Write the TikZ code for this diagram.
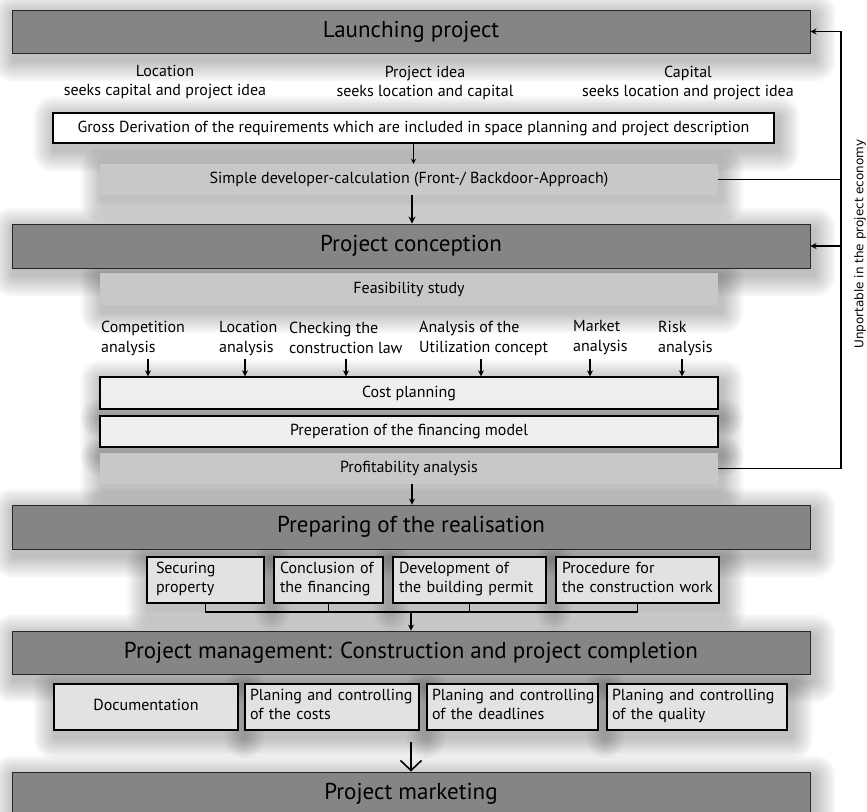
\documentclass[tikz,border=0pt]{standalone}
\usepackage{fontspec}
\setmainfont{PT Sans}
\newfontfamily\sidefont{DejaVu Sans}
\usetikzlibrary{arrows.meta,backgrounds}

\definecolor{phasegray}{HTML}{858585}
\definecolor{stepgray}{HTML}{C8C8C8}
\definecolor{paleface}{HTML}{EFEFEF}
\definecolor{subface}{HTML}{E2E2E2}

\begin{document}
\begin{tikzpicture}[x=1pt,y=-1pt,
  phase/.style={draw=black!85,line width=0.9pt,fill=phasegray,
      minimum width=798pt,inner sep=0pt,
      font=\fontsize{23}{27}\selectfont},
  stepbox/.style={fill=stepgray,minimum width=618pt,inner sep=0pt,
      font=\fontsize{16}{19}\selectfont},
  plainbox/.style={draw=black,line width=1.3pt,inner sep=0pt,
      font=\fontsize{16}{19}\selectfont},
  subbox/.style={draw=black,line width=1.8pt,fill=subface,inner ysep=0pt,
      minimum height=46pt,align=left,
      font=\fontsize{16}{19}\selectfont,execute at end node={\strut}},
  toptext/.style={align=center,inner sep=0pt,font=\fontsize{16}{19}\selectfont},
  facet/.style={align=left,inner sep=0pt,anchor=west,
      font=\fontsize{16}{20}\selectfont},
  arr/.style={-{Stealth[length=6pt,width=6pt]},line width=1.6pt},
  thinarr/.style={-{Stealth[length=5pt,width=5pt]},line width=0.9pt},
  thickarr/.style={-{Stealth[length=7pt,width=7pt]},line width=2.4pt},
  openarr/.style={-{Straight Barb[length=10pt,width=21pt]},line width=1.6pt},
  fbline/.style={line width=1.5pt},
  bracket/.style={line width=1.8pt},
  hazelayer/.style={fill=black,opacity=0.026},
]
\useasboundingbox (0,0) rectangle (867,811);
\clip (0,0) rectangle (867,811);

% phase 1: launching
\node[phase,minimum height=43pt] (launch) at (411,31.5) {Launching project};
\node[toptext] (loc)  at (165,82.5) {Location\\seeks capital and project idea};
\node[toptext] (idea) at (425,82.5) {Project idea\\seeks location and capital};
\node[toptext] (cap)  at (688,82.5) {Capital\\seeks location and project idea};
\node[plainbox,fill=white,minimum width=721pt,minimum height=30pt] (gross) at (413.5,128)
  {Gross Derivation of the requirements which are included in space planning and project description};
\node[stepbox,minimum height=31pt] (simple) at (409,179.5)
  {Simple developer-calculation (Front-/ Backdoor-Approach)};

% phase 2: conception
\node[phase,minimum height=44pt] (concept) at (411,246) {Project conception};
\node[stepbox,minimum height=32pt] (feas) at (409,289) {Feasibility study};
\node[facet] (f1) at (101,338) {Competition\\analysis};
\node[facet] (f2) at (219,338) {Location\\analysis};
\node[facet] (f3) at (289,338) {Checking the\\construction law};
\node[facet] (f4) at (419,338) {Analysis of the\\Utilization concept};
\node[facet] (f5) at (573,338) {Market\\analysis};
\node[facet] (f6) at (658,338) {Risk\\analysis};
\node[plainbox,fill=paleface,minimum width=618pt,minimum height=32pt] (cost) at (409,393) {Cost planning};
\node[plainbox,fill=paleface,minimum width=618pt,minimum height=31pt] (finmodel) at (409,431.5)
  {Preperation of the financing model};
\node[stepbox,minimum height=31pt] (profit) at (409,468.5) {Profitability analysis};

% phase 3: preparing
\node[phase,minimum height=44pt] (prep) at (411,527) {Preparing of the realisation};
\node[subbox,inner xsep=9pt,text width=99pt]  (sec)  at (205.5,580) {Securing\\property};
\node[subbox,inner xsep=6pt,text width=97pt]  (conc) at (328.5,580) {\mbox{Conclusion of}\\the financing};
\node[subbox,inner xsep=6pt,text width=141pt] (dev)  at (469.5,580) {Development of\\\mbox{the building permit}};
\node[subbox,inner xsep=6pt,text width=151pt] (proc) at (637.5,580) {Procedure for\\\mbox{the construction work}};

% phase 4: project management
\node[phase,minimum height=43pt] (pm) at (411,652.5) {Project management: Construction and project completion};
\node[subbox,inner xsep=0pt,minimum width=184pt,align=center] (doc) at (146,707) {Documentation};
\node[subbox,inner xsep=5pt,text width=164pt] (pcost) at (332,707) {\mbox{Planing and controlling}\\of the costs};
\node[subbox,inner xsep=5pt,text width=161pt] (pdead) at (512.5,707) {\mbox{Planing and controlling}\\of the deadlines};
\node[subbox,inner xsep=5pt,text width=170pt] (pqual) at (697,707) {\mbox{Planing and controlling}\\of the quality};

% phase 5: marketing
\node[phase,minimum height=43pt] (market) at (411,793.5) {Project marketing};

% soft drop shadows behind the boxes
\begin{scope}[on background layer]
  \foreach \n in {launch,gross,simple,concept,feas,cost,finmodel,profit,
                  prep,sec,conc,dev,proc,pm,doc,pcost,pdead,pqual,market} {
    \foreach \k in {1,...,10} {
      \fill[hazelayer,rounded corners={2*\k pt}]
        ([shift={({3-2.2*\k},{6-2.2*\k})}]\n.north west) rectangle
        ([shift={({3+2.2*\k},{6+2.2*\k})}]\n.south east);
    }
  }
\end{scope}

% main flow
\draw[thinarr] (gross.south) -- (gross.south |- simple.north);
\draw[thickarr] ([xshift=3pt]simple.south) -- ([xshift=3pt]simple.south |- concept.north);
\foreach \ax [count=\i] in {148,245,346,481,590,682} {
  \coordinate (fa\i) at (\ax,359);
  \draw[arr] (fa\i) -- (fa\i |- cost.north);
}
\draw[arr] ([xshift=3pt]profit.south) -- ([xshift=3pt]profit.south |- prep.north);

% joining bracket below the preparation steps
\coordinate (bk) at (411,612);
\draw[bracket] (sec.south) -- (sec.south |- bk) -| (proc.south);
\draw[bracket] (conc.south) -- (conc.south |- bk);
\draw[bracket] (dev.south) -- (dev.south |- bk);
\draw[arr] (bk) -- (bk |- pm.north);

\coordinate (pmout) at (411,742);
\draw[openarr] (pmout) -- (pmout |- market.north);

% feedback loop
\coordinate (fbx) at (841,180);
\draw[fbline] (simple.east) -- (simple.east -| fbx);
\draw[fbline,-{Stealth[length=6pt,width=6pt]}] (profit.east) -- (profit.east -| fbx) |- (launch.east);
\draw[fbline,-{Stealth[length=6pt,width=6pt]}] (fbx |- concept.east) -- (concept.east);
\node[rotate=90,inner sep=0pt,font=\sidefont\fontsize{12}{14}\selectfont] (side) at (860,244)
  {Unportable in the project economy};
\end{tikzpicture}
\end{document}
